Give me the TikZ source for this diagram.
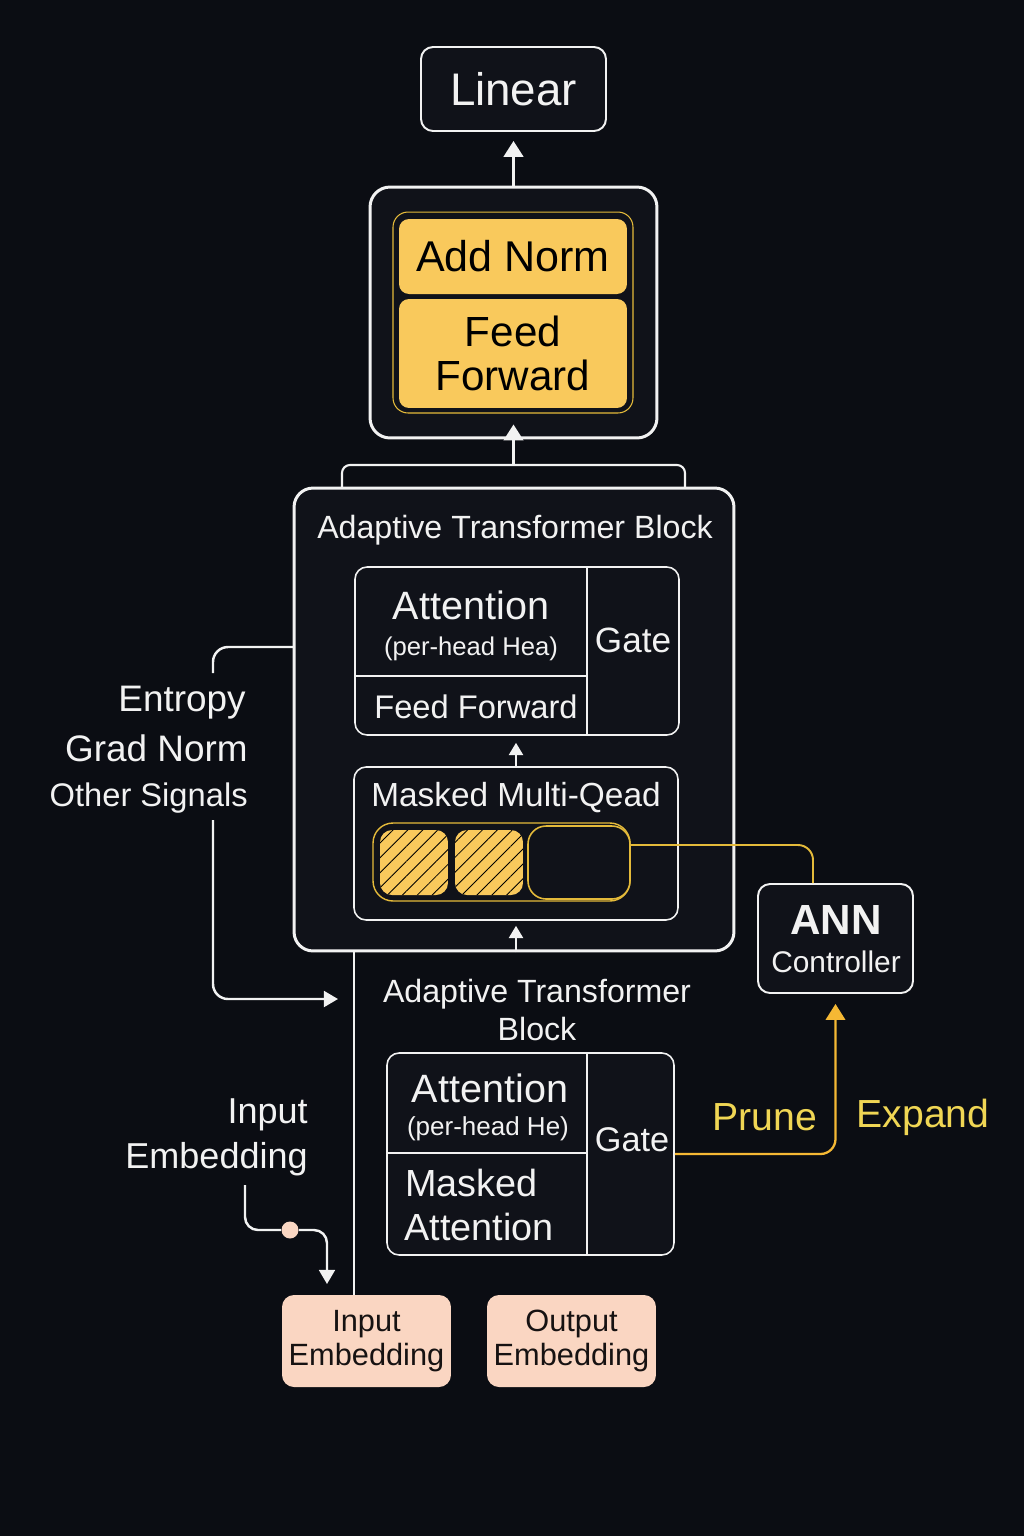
\documentclass[tikz,border=0pt]{standalone}
\usepackage{fontspec}
\setmainfont{Liberation Sans}
\usepackage{tikz}
\usetikzlibrary{arrows.meta, positioning, patterns.meta}
\usepackage{xcolor}
\definecolor{NightBg}{RGB}{11,13,19}
\definecolor{BoxDark}{RGB}{16,18,25}
\definecolor{LineWhite}{RGB}{242,242,242}
\definecolor{GoldFill}{RGB}{249,201,92}
\definecolor{GoldLine}{RGB}{228,186,58}
\definecolor{CtlOrange}{RGB}{245,184,52}
\definecolor{GoldText}{RGB}{240,214,84}
\definecolor{Peach}{RGB}{250,214,194}
\definecolor{InkDark}{RGB}{22,18,18}
\newcommand{\fsz}[2]{\fontsize{#1}{#2}\selectfont}

\begin{document}
\begin{tikzpicture}[x=0.02cm, y=-0.02cm,
            outerbox/.style={draw=LineWhite, line width=1.7pt, rounded corners=0.38cm, fill=BoxDark, inner sep=0pt},
            panel/.style={draw=LineWhite, line width=0.9pt, rounded corners=0.24cm, fill=BoxDark, inner sep=0pt},
            goldbox/.style={fill=GoldFill, rounded corners=0.2cm, text=black, align=center, inner sep=0pt, minimum width=4.56cm},
            hatched/.style={preaction={fill=GoldFill}, pattern={Lines[angle=45, distance=6pt, line width=0.5pt]}, pattern color=black, rounded corners=0.24cm, minimum width=1.36cm, minimum height=1.3cm, inner sep=0pt},
            embed/.style={fill=Peach, rounded corners=0.24cm, text=InkDark, align=center, minimum width=3.38cm, minimum height=1.84cm, inner sep=0pt, font=\fsz{17.5}{19.5}},
            txt/.style={text=LineWhite, inner sep=0pt},
            wire/.style={draw=LineWhite, line width=1.4pt, rounded corners=0.3cm},
            ctl/.style={draw=CtlOrange, line width=1.3pt, rounded corners=0.3cm},
            bigtip/.style={-{Triangle[width=11pt, length=9pt]}},
            smalltip/.style={-{Triangle[width=8pt, length=7pt]}}
        ]
        \useasboundingbox (0,0) rectangle (1024,1536);
        \fill[NightBg] (0,0) rectangle (1024,1536);

        % Head
        \node[outerbox, rounded corners=0.24cm, line width=1.1pt, minimum width=3.7cm, minimum height=1.68cm, text=LineWhite, font=\fsz{26}{30}] (linear) at (513.5,89) {Linear};
        \node[outerbox, rounded corners=0.4cm, minimum width=5.74cm, minimum height=5.02cm] (headbox) at (513.5,312.5) {};
        \node[draw=GoldLine, line width=0.6pt, fill=BoxDark, rounded corners=0.3cm, minimum width=4.8cm, minimum height=4.02cm, inner sep=0pt] (headgold) at (513,312.5) {};
        \node[goldbox, minimum height=1.5cm, font=\fsz{24.5}{28}] (addnorm) at (513,256.5) {Add Norm};
        \node[goldbox, minimum height=2.18cm, font=\fsz{24}{25.5}] (headff) at (513,353.5) {Feed\\Forward};
        \draw[LineWhite, line width=1.7pt, bigtip, shorten >=0.18cm] (headbox.north) -- (linear.south);

        % Adaptive block
        \coordinate (tabtop) at (513.5,465);
        \draw[wire, line width=1.2pt, rounded corners=0.16cm] (342,488) |- (tabtop) -| (685,488);
        \node[outerbox, minimum width=8.8cm, minimum height=9.26cm] (block) at (514,719.5) {};
        \draw[LineWhite, line width=1.6pt, bigtip, shorten >=-0.3cm] (tabtop) -- (headbox.south);
        \node[txt, font=\fsz{18.3}{22}] (blocktitle) at (515,530) {Adaptive Transformer Block};

        \node[panel, minimum width=6.48cm, minimum height=3.36cm] (attA) at (517,651) {};
        \draw[LineWhite, line width=0.9pt] (587,567) -- (587,735);
        \draw[LineWhite, line width=0.9pt] (355,676) -- (587,676);
        \node[txt, font=\fsz{22.5}{26}] (attAtitle) at (471,605) {Attention};
        \node[txt, font=\fsz{14.6}{17}] (attAsub) at (471,649) {(per-head Hea)};
        \node[txt, font=\fsz{20}{24}] (gateA) at (633,640) {Gate};
        \node[txt, font=\fsz{18.6}{22}] (ffA) at (476,707) {Feed Forward};

        \node[panel, minimum width=6.48cm, minimum height=3.06cm] (maskA) at (516,843.5) {};
        \node[txt, font=\fsz{19}{22}] (masktitle) at (516,798) {Masked Multi-Qead};
        \node[draw=GoldLine, line width=0.8pt, fill=BoxDark, rounded corners=0.4cm, minimum width=5.14cm, minimum height=1.56cm, inner sep=0pt] (pill) at (501.5,862) {};
        \node[hatched] (cellA) at (414,862.5) {};
        \node[hatched] (cellB) at (489,862.5) {};
        \node[draw=GoldLine, line width=0.9pt, fill=BoxDark, rounded corners=0.36cm, minimum width=2.04cm, minimum height=1.46cm, inner sep=0pt] (cellC) at (579,862.5) {};

        \draw[LineWhite, line width=1.2pt, smalltip, shorten >=0.14cm] (maskA.north) -- (maskA.north |- attA.south);
        \draw[LineWhite, line width=1.2pt, smalltip, shorten >=0.1cm] (maskA.south |- block.south) -- (maskA.south);

        % Controller
        \node[panel, line width=1.1pt, minimum width=3.1cm, minimum height=2.18cm] (ann) at (835.5,938.5) {};
        \node[txt, font=\fsz{24}{28}\bfseries] (annA) at (836,920) {ANN};
        \node[txt, font=\fsz{17}{20}] (annB) at (836,962) {Controller};
        \draw[ctl, draw=GoldLine, line width=1.1pt] ([yshift=0.35cm]cellC.east) -| ([xshift=-0.45cm]ann.north);

        % Signals
        \coordinate (sigin) at (294,647);
        \coordinate (sigtop) at (213,673);
        \draw[wire] (sigin) -| (sigtop);
        \node[txt, anchor=east, font=\fsz{21}{24}] (sigE) at (246,703) {Entropy};
        \node[txt, anchor=east, font=\fsz{21}{24}] (sigG) at (248,748) {Grad Norm};
        \node[txt, anchor=east, font=\fsz{18.6}{22}] (sigO) at (248,798) {Other Signals};
        \coordinate (sigbot) at (213,820);
        \coordinate (sigend) at (338,999);
        \draw[wire, -{Triangle[width=9pt, length=8pt]}] (sigbot) |- (sigend);

        % Lower block
        \node[txt, align=center, font=\fsz{18.3}{21.6}] (blockBtitle) at (537,1010) {Adaptive Transformer\\Block};
        \node[panel, minimum width=5.74cm, minimum height=4.04cm] (attB) at (530.5,1154) {};
        \draw[LineWhite, line width=0.9pt] (587,1053) -- (587,1255);
        \draw[LineWhite, line width=0.9pt] (387,1153) -- (587,1153);
        \node[txt, font=\fsz{22.5}{26}] (attBtitle) at (490,1088) {Attention};
        \node[txt, font=\fsz{14.8}{17}] (attBsub) at (488,1129) {(per-head He)};
        \node[txt, font=\fsz{19.5}{23}] (gateB) at (632,1140) {Gate};
        \node[txt, anchor=west, font=\fsz{21.5}{25}] (maskBa) at (405,1183) {Masked};
        \node[txt, anchor=west, font=\fsz{21.5}{25}] (maskBb) at (404,1227) {Attention};

        \draw[ctl, -{Triangle[width=11pt, length=9pt]}, shorten >=0.2cm] (attB.east) -| (ann.south);
        \node[txt, text=GoldText, font=\fsz{22.3}{26}] (prune) at (765,1117) {Prune};
        \node[txt, text=GoldText, font=\fsz{22.3}{26}] (expand) at (923,1117) {Expand};

        % Embeddings
        \node[txt, anchor=east, align=right, font=\fsz{20.5}{25.6}] (embnote) at (308,1137) {Input\\Embedding};
        \node[embed] (inemb) at (366.5,1341) {Input\\Embedding};
        \node[embed] (outemb) at (571.5,1341) {Output\\Embedding};
        \coordinate (spine) at (354,951);
        \draw[wire, line width=1.2pt] (spine) -- (spine |- inemb.north);

        \coordinate (embtop) at (245,1185);
        \coordinate (embend) at (327,1284);
        \node[circle, fill=Peach, minimum size=0.34cm, inner sep=0pt] (embdot) at (290,1230) {};
        \draw[wire, rounded corners=0.26cm] (embtop) |- (embdot.west);
        \draw[wire, rounded corners=0.26cm, -{Triangle[width=9pt, length=8pt]}] (embdot.east) -| (embend);

        \end{tikzpicture}
\end{document}
